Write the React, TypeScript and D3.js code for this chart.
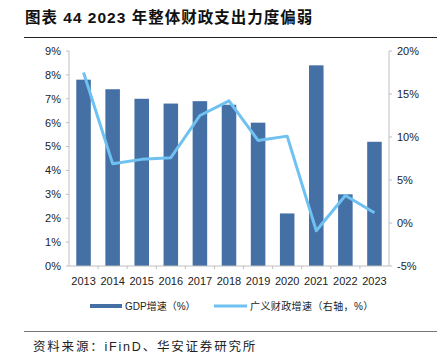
import * as d3 from "d3";
import { useEffect, useRef } from "react";

const years = ["2013", "2014", "2015", "2016", "2017", "2018", "2019", "2020", "2021", "2022", "2023"];
const gdpGrowth = [7.8, 7.4, 7.0, 6.8, 6.9, 6.75, 6.0, 2.2, 8.4, 3.0, 5.2];
const fiscalGrowth = [17.5, 6.9, 7.4, 7.6, 12.5, 14.2, 9.6, 10.1, -0.9, 3.2, 1.2];
const leftTicks = [0, 1, 2, 3, 4, 5, 6, 7, 8, 9];
const rightTicks = [-5, 0, 5, 10, 15, 20];

const W = 443;
const H = 361;
const margin = { left: 69, right: 54, top: 51, bottom: 95 };
const barColor = "#4570a6";
const lineColor = "#6ec1f0";
const axisColor = "#bfbfbf";
const font = "Arial, 'Liberation Sans', 'Noto Sans CJK SC', sans-serif";

const App = () => {
  const svgRef = useRef<SVGSVGElement>(null);

  useEffect(() => {
    const svg = d3.select(svgRef.current);
    svg.selectAll("*").remove();

    const x0 = margin.left;
    const x1 = W - margin.right;
    const y0 = margin.top;
    const y1 = H - margin.bottom;

    const x = d3.scaleBand().domain(years).range([x0, x1]).paddingInner(0.5).paddingOuter(0.25);
    const yL = d3.scaleLinear().domain([0, 9]).range([y1, y0]);
    const yR = d3.scaleLinear().domain([-5, 20]).range([y1, y0]);

    // title
    svg
      .append("text")
      .attr("x", 25)
      .attr("y", 23)
      .attr("font-family", font)
      .attr("font-size", 15.5)
      .attr("font-weight", "bold")
      .attr("letter-spacing", 1)
      .attr("fill", "#111")
      .text("图表 44 2023 年整体财政支出力度偏弱");
    svg.append("line").attr("x1", 24).attr("x2", 437).attr("y1", 37.5).attr("y2", 37.5).attr("stroke", "#222").attr("stroke-width", 1.2);

    // bars
    svg
      .append("g")
      .selectAll("rect")
      .data(gdpGrowth)
      .join("rect")
      .attr("x", (_, i) => x(years[i])!)
      .attr("width", x.bandwidth())
      .attr("y", (d) => yL(d))
      .attr("height", (d) => yL(0) - yL(d))
      .attr("fill", barColor);

    // axes
    const gL = svg.append("g").attr("transform", `translate(${x0},0)`);
    gL.append("line").attr("y1", y0).attr("y2", y1).attr("stroke", axisColor);
    leftTicks.forEach((t) => {
      gL.append("line").attr("x1", -3).attr("x2", 0).attr("y1", yL(t)).attr("y2", yL(t)).attr("stroke", axisColor);
      gL.append("text")
        .attr("x", -8)
        .attr("y", yL(t))
        .attr("dy", "0.35em")
        .attr("text-anchor", "end")
        .attr("font-family", font)
        .attr("font-size", 11)
        .attr("fill", "#222")
        .text(`${t}%`);
    });

    const gR = svg.append("g").attr("transform", `translate(${x1},0)`);
    gR.append("line").attr("y1", y0).attr("y2", y1).attr("stroke", axisColor);
    rightTicks.forEach((t) => {
      gR.append("line").attr("x1", 0).attr("x2", 3).attr("y1", yR(t)).attr("y2", yR(t)).attr("stroke", axisColor);
      gR.append("text")
        .attr("x", 8)
        .attr("y", yR(t))
        .attr("dy", "0.35em")
        .attr("font-family", font)
        .attr("font-size", 11)
        .attr("fill", "#222")
        .text(`${t}%`);
    });

    const gB = svg.append("g");
    gB.append("line").attr("x1", x0).attr("x2", x1).attr("y1", y1).attr("y2", y1).attr("stroke", axisColor);
    const step = x.step();
    years.forEach((yr, i) => {
      const c = x(yr)! + x.bandwidth() / 2;
      if (i > 0) {
        gB.append("line").attr("x1", c - step / 2).attr("x2", c - step / 2).attr("y1", y1).attr("y2", y1 + 3).attr("stroke", axisColor);
      }
      gB.append("text")
        .attr("x", c)
        .attr("y", y1 + 19)
        .attr("text-anchor", "middle")
        .attr("font-family", font)
        .attr("font-size", 11)
        .attr("fill", "#222")
        .text(yr);
    });

    // line
    const line = d3
      .line<number>()
      .x((_, i) => x(years[i])! + x.bandwidth() / 2)
      .y((d) => yR(d));
    svg
      .append("path")
      .datum(fiscalGrowth)
      .attr("fill", "none")
      .attr("stroke", lineColor)
      .attr("stroke-width", 3)
      .attr("stroke-linejoin", "round")
      .attr("d", line);

    // legend
    const lg = svg.append("g").attr("transform", `translate(0,306)`);
    lg.append("rect").attr("x", 90).attr("y", -2).attr("width", 32).attr("height", 4).attr("fill", barColor);
    lg.append("text")
      .attr("x", 125)
      .attr("y", 0)
      .attr("dy", "0.35em")
      .attr("font-family", font)
      .attr("font-size", 10)
      .attr("fill", "#222")
      .text("GDP增速（%）");
    lg.append("line").attr("x1", 214).attr("x2", 247).attr("y1", 0).attr("y2", 0).attr("stroke", lineColor).attr("stroke-width", 3);
    lg.append("text")
      .attr("x", 250)
      .attr("y", 0)
      .attr("dy", "0.35em")
      .attr("font-family", font)
      .attr("font-size", 10)
      .attr("letter-spacing", 0.4)
      .attr("fill", "#222")
      .text("广义财政增速（右轴，%）");

    // source
    svg.append("line").attr("x1", 24).attr("x2", 437).attr("y1", 331.5).attr("y2", 331.5).attr("stroke", "#777").attr("stroke-width", 1);
    svg
      .append("text")
      .attr("x", 33)
      .attr("y", 351)
      .attr("font-family", font)
      .attr("font-size", 12.5)
      .attr("letter-spacing", 1.8)
      .attr("fill", "#222")
      .text("资料来源：iFinD、华安证券研究所");
  }, []);

  return <svg ref={svgRef} width={W} height={H} style={{ position: "absolute", left: 0, top: 0 }} />;
};

export default App;
